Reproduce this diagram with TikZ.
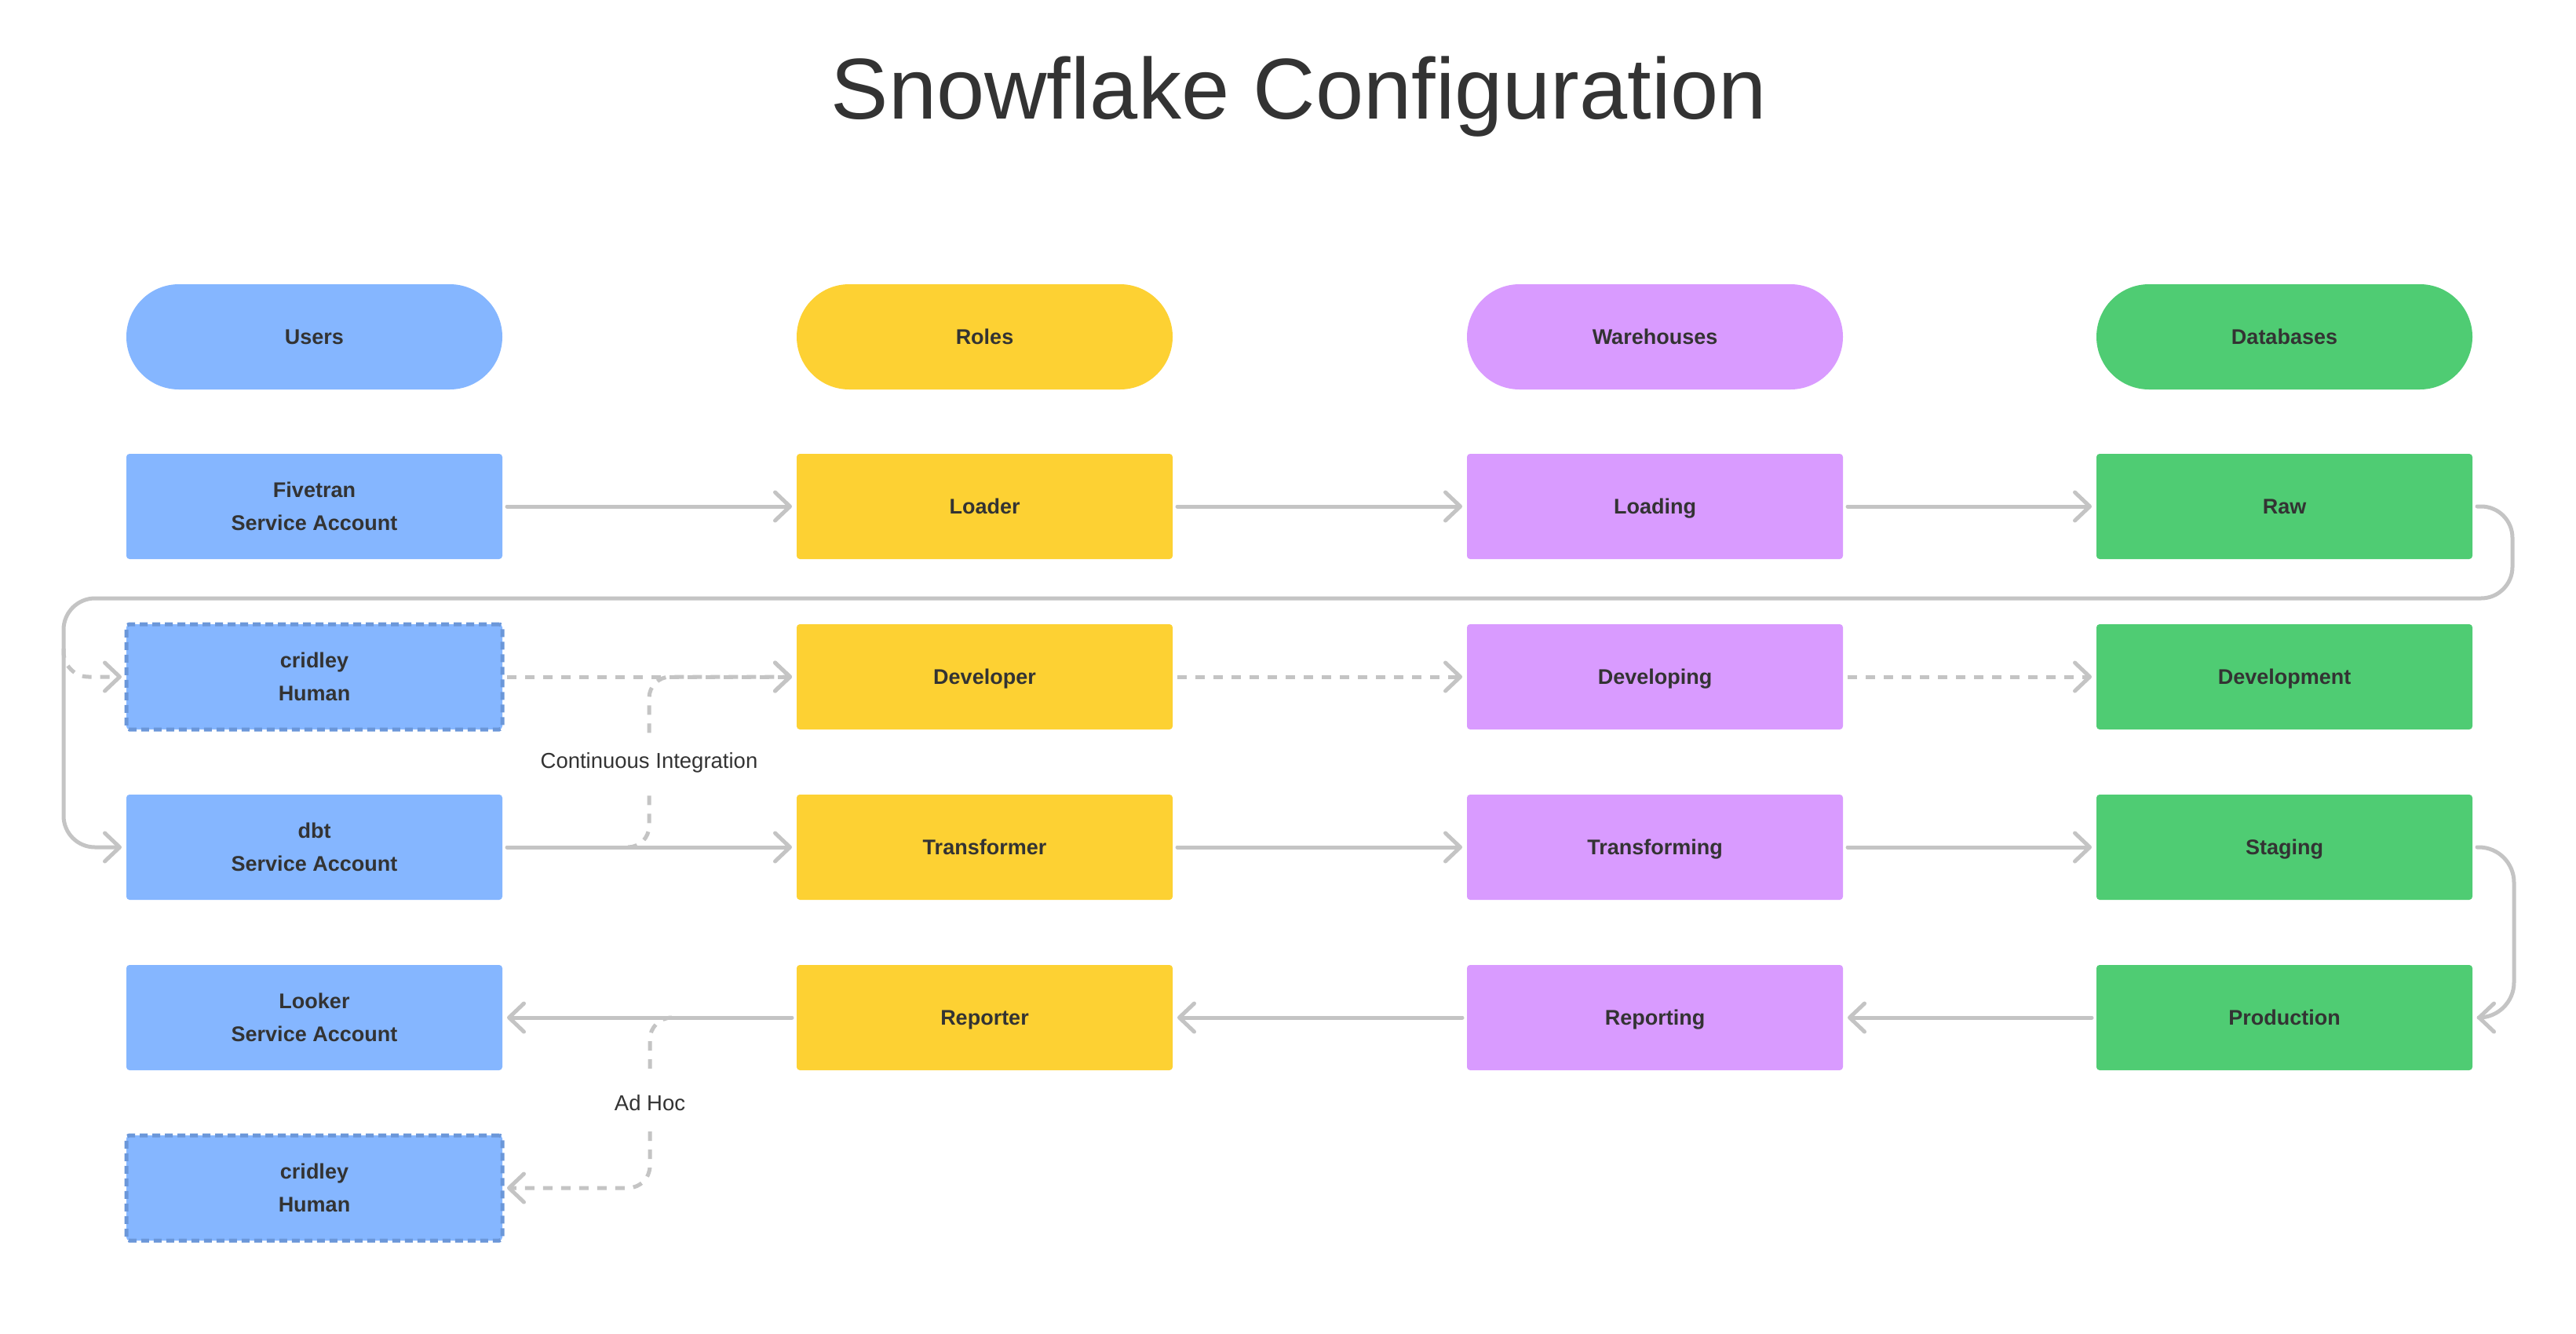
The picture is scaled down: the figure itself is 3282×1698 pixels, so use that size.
\documentclass[tikz,border=0pt]{standalone}
\usepackage{fontspec}
\setmainfont{Liberation Sans}
\usetikzlibrary{arrows.meta,calc}
\definecolor{ublue}{HTML}{85B6FF}
\definecolor{bdash}{HTML}{6B97D9}
\definecolor{ryellow}{HTML}{FDD133}
\definecolor{wpurple}{HTML}{D99BFF}
\definecolor{dgreen}{HTML}{4FCC73}
\definecolor{lgray}{HTML}{C4C4C4}
\definecolor{txt}{HTML}{333333}
\begin{document}
\begin{tikzpicture}[x=1pt,y=-1pt,
  box/.style={rectangle, minimum width=479pt, minimum height=134pt, rounded corners=4pt,
    align=center, text=txt, inner sep=0pt, outer sep=0pt,
    font=\bfseries\fontsize{27}{42}\selectfont},
  one/.style={text height=19.5pt, text depth=0pt},
  hdr/.style={box, one, rounded corners=67pt},
  ubox/.style={box, fill=ublue},
  udash/.style={box, fill=ublue, draw=bdash, line width=5pt, dash pattern=on 10pt off 6pt},
  rbox/.style={box, one, fill=ryellow},
  wbox/.style={box, one, fill=wpurple},
  dbox/.style={box, one, fill=dgreen},
  lineb/.style={draw=lgray, line width=5pt, line join=round},
  tipped/.style={-{Straight Barb[round,length=19pt,width=36pt]}, shorten >=6pt},
  conn/.style={lineb, tipped, line cap=round},
  dconn/.style={lineb, tipped, line cap=butt, dash pattern=on 12pt off 11pt},
  lbl/.style={fill=white, text=txt, font=\fontsize{27.5}{32}\selectfont, inner xsep=4pt, inner ysep=23pt}
]
\useasboundingbox (0,0) rectangle (3282,1698);
\fill[white] (0,0) rectangle (3282,1698);

\node[text=txt, font=\fontsize{110}{130}\selectfont, anchor=base] (title) at (1655,151) {Snowflake Configuration};

% headers
\node[hdr, fill=ublue] (users) at (400.5,429) {Users};
\node[hdr, fill=ryellow] (roles) at (1254.5,429) {Roles};
\node[hdr, fill=wpurple] (whs) at (2108.5,429) {Warehouses};
\node[hdr, fill=dgreen] (dbs) at (2910.5,429) {Databases};

% users
\node[ubox] (fivetran) at (400.5,645) {Fivetran\\Service Account};
\node[udash] (cridley1) at (400.5,862) {cridley\\Human};
\node[ubox] (dbt) at (400.5,1079) {dbt\\Service Account};
\node[ubox] (looker) at (400.5,1296) {Looker\\Service Account};
\node[udash] (cridley2) at (400.5,1513) {cridley\\Human};

% roles
\node[rbox] (loader) at (1254.5,645) {Loader};
\node[rbox] (developer) at (1254.5,862) {Developer};
\node[rbox] (transformer) at (1254.5,1079) {Transformer};
\node[rbox] (reporter) at (1254.5,1296) {Reporter};

% warehouses
\node[wbox] (loading) at (2108.5,645) {Loading};
\node[wbox] (developing) at (2108.5,862) {Developing};
\node[wbox] (transforming) at (2108.5,1079) {Transforming};
\node[wbox] (reporting) at (2108.5,1296) {Reporting};

% databases
\node[dbox] (raw) at (2910.5,645) {Raw};
\node[dbox] (development) at (2910.5,862) {Development};
\node[dbox] (staging) at (2910.5,1079) {Staging};
\node[dbox] (production) at (2910.5,1296) {Production};

% row 1
\draw[conn, shorten <=6pt] (fivetran.east) -- (loader.west);
\draw[conn, shorten <=6pt] (loader.east) -- (loading.west);
\draw[conn, shorten <=6pt] (loading.east) -- (raw.west);

% loop from Raw back to users
\coordinate (loopR) at (3201,762);
\coordinate (loopL) at (81,762);
\draw[conn, shorten <=6pt, rounded corners=40pt] (raw.east) -| (loopR) -- (loopL) |- (dbt.west);
\coordinate (branch) at (81,826);
\draw[dconn, rounded corners=32pt] (branch) |- (cridley1.west);

% row 2 dashed
\draw[dconn, shorten <=6pt] (cridley1.east) -- (developer.west);
\draw[dconn, shorten <=6pt] (developer.east) -- (developing.west);
\draw[dconn, shorten <=6pt] (developing.east) -- (development.west);

% row 3
\draw[conn, shorten <=6pt] (dbt.east) -- (transformer.west);
\draw[conn, shorten <=6pt] (transformer.east) -- (transforming.west);
\draw[conn, shorten <=6pt] (transforming.east) -- (staging.west);

% continuous integration
\coordinate (ciS) at (800,1079);
\coordinate (ciV) at (827,1079);
\draw[dconn, rounded corners=27pt] (ciS) -- (ciV) |- (developer.west);
\node[lbl] (cilabel) at (827,971) {Continuous Integration};

% staging -> production
\coordinate (spR) at (3203,1079);
\draw[conn, shorten <=6pt, rounded corners=45pt] (staging.east) -- (spR) |- (production.east);

% row 4
\draw[conn, shorten <=6pt] (production.west) -- (reporting.east);
\draw[conn, shorten <=6pt] (reporting.west) -- (reporter.east);
\draw[conn, shorten <=6pt] (reporter.west) -- (looker.east);

% ad hoc
\coordinate (ahS) at (856,1296);
\coordinate (ahV) at (828,1296);
\draw[dconn, rounded corners=28pt] (ahS) -- (ahV) |- (cridley2.east);
\node[lbl] (ahlabel) at (828,1405) {Ad Hoc};
\end{tikzpicture}
\end{document}
